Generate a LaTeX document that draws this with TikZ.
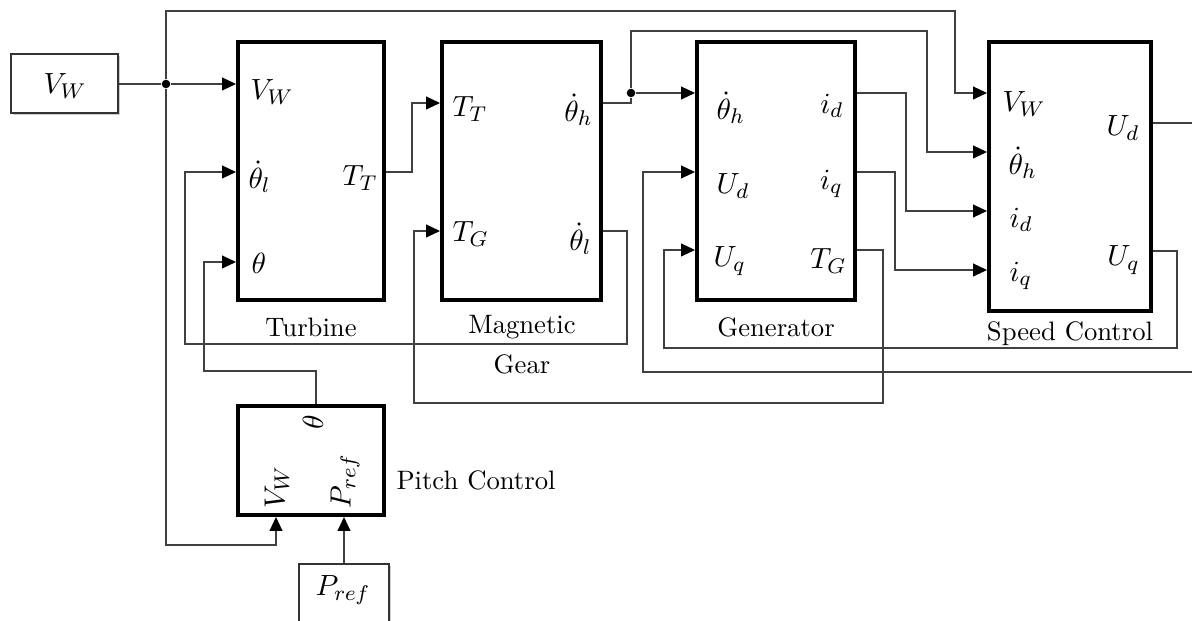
\documentclass[tikz,border=0pt]{standalone}
\usetikzlibrary{arrows.meta,shadows}
\begin{document}
\begin{tikzpicture}[x=0.375pt,y=-0.375pt,
  conn/.style={draw=black!75, line width=0.45pt},
  arr/.style={conn,-{Triangle[length=5.2pt,width=4.8pt,color=black]}},
  blk/.style n args={2}{draw=black, line width=1.5pt, minimum width=#1*0.375pt, minimum height=#2*0.375pt, inner sep=0pt},
  src/.style n args={2}{draw=black!80, line width=0.5pt, fill=white, minimum width=#1*0.375pt, minimum height=#2*0.375pt, inner sep=0pt,
     drop shadow={shadow xshift=0.6pt, shadow yshift=-0.6pt, fill=black!40, opacity=0.5}},
  lbl/.style={inner sep=0pt, font={\fontsize{11}{13}\selectfont}},
  captxt/.style={inner sep=0pt},
  dot/.style={circle, fill=black, inner sep=0pt, minimum size=3.2pt}]
\useasboundingbox (0,0) rectangle (1192,621);
\clip (0,0) rectangle (1192,621);

% source blocks
\node[src={107}{59}] (vw) at (64.5,83.5) {};
\node[lbl] (vwl) at (65,86) {$V_W$};
\node[src={90}{90}] (pref) at (344,609) {};
\node[lbl] (prefl) at (343,590) {$P_{ref}$};

% main blocks
\node[blk={146}{257.5}] (turb) at (311,171.25) {};
\node[blk={159}{258}] (mag) at (521.5,171) {};
\node[blk={158}{258}] (gen) at (776,171) {};
\node[blk={162}{269}] (sc) at (1070,177) {};
\node[blk={146.5}{109}] (pc) at (310.75,460.5) {};

% captions
\node[captxt] (capt) at (311,327) {Turbine};
\node[captxt] (capm1) at (522,327) {Magnetic};
\node[captxt] (capm2) at (522,364) {Gear};
\node[captxt] (capg) at (776,327) {Generator};
\node[captxt] (caps) at (1070,334) {Speed Control};
\node[captxt,anchor=west] (capp) at (396,480) {Pitch Control};

% turbine ports
\node[lbl,anchor=west] (tvw) at (250,92) {$V_W$};
\node[lbl,anchor=west] (tthl) at (248,177) {$\dot\theta_l$};
\node[lbl,anchor=west] (tth) at (251,263) {$\theta$};
\node[lbl,anchor=east] (ttt) at (378,178) {$T_T$};
% magnetic gear ports
\node[lbl,anchor=west] (mtt) at (452,109) {$T_T$};
\node[lbl,anchor=west] (mtg) at (452,234) {$T_G$};
\node[lbl,anchor=east] (mthh) at (593,110) {$\dot\theta_h$};
\node[lbl,anchor=east] (mthl) at (592,239) {$\dot\theta_l$};
% generator ports
\node[lbl,anchor=west] (gthh) at (716,108) {$\dot\theta_h$};
\node[lbl,anchor=west] (gud) at (716,186) {$U_d$};
\node[lbl,anchor=west] (guq) at (713,261) {$U_q$};
\node[lbl,anchor=east] (gid) at (844,106) {$i_d$};
\node[lbl,anchor=east] (giq) at (843,184) {$i_q$};
\node[lbl,anchor=east] (gtg) at (847,261) {$T_G$};
% speed control ports
\node[lbl,anchor=west] (svw) at (1002,104) {$V_W$};
\node[lbl,anchor=west] (sthh) at (1008,163) {$\dot\theta_h$};
\node[lbl,anchor=west] (sid) at (1009,220) {$i_d$};
\node[lbl,anchor=west] (siq) at (1009,276) {$i_q$};
\node[lbl,anchor=east] (sud) at (1140,128) {$U_d$};
\node[lbl,anchor=east] (suq) at (1140,260) {$U_q$};
% pitch control ports
\node[lbl,rotate=90] (pth) at (313,422) {$\theta$};
\node[lbl,rotate=90] (pvw) at (277,487) {$V_W$};
\node[lbl,rotate=90] (ppr) at (345,481) {$P_{ref}$};

% junctions
\node[dot] (j1) at (166,84) {};
\node[dot] (j2) at (631,93) {};
\coordinate (e1) at (1192,123);
\coordinate (e2) at (1192,372);

% connectors
\draw[arr] (vw.east |- j1) -- (j1) -- (turb.west |- j1);
\draw[arr] (j1) -- (166,11) -- (955,11) -- (955,93) -- (sc.west |- 0,93);
\draw[arr] (j1) -- (166,545) -- (276,545) -- (pc.south -| 276,0);
\draw[arr] (pref.north) -- (pc.south -| pref.north);
\draw[arr] (pc.north -| 316,0) -- (316,371) -- (204,371) -- (204,262) -- (turb.west |- 0,262);
\draw[arr] (turb.east |- 0,172) -- (412,172) -- (412,103) -- (mag.west |- 0,103);
\draw[arr] (mag.east |- 0,231) -- (627,231) -- (627,344) -- (185,344) -- (185,172) -- (turb.west |- 0,172);
\draw[conn] (mag.east |- 0,103) -- (631,103) -- (j2);
\draw[arr] (j2) -- (gen.west |- j2);
\draw[arr] (j2) -- (631,31) -- (927,31) -- (927,152) -- (sc.west |- 0,152);
\draw[arr] (gen.east |- 0,250) -- (883,250) -- (883,403) -- (414,403) -- (414,231) -- (mag.west |- 0,231);
\draw[arr] (gen.east |- 0,93) -- (906,93) -- (906,211) -- (sc.west |- 0,211);
\draw[arr] (gen.east |- 0,172) -- (895,172) -- (895,270) -- (sc.west |- 0,270);
\draw[arr] (sc.east |- 0,251) -- (1177,251) -- (1177,348) -- (664,348) -- (664,250) -- (gen.west |- 0,250);
\draw[conn] (sc.east |- 0,123) -- (e1);
\draw[arr] (e2) -- (643,372) -- (643,172) -- (gen.west |- 0,172);
\end{tikzpicture}
\end{document}
